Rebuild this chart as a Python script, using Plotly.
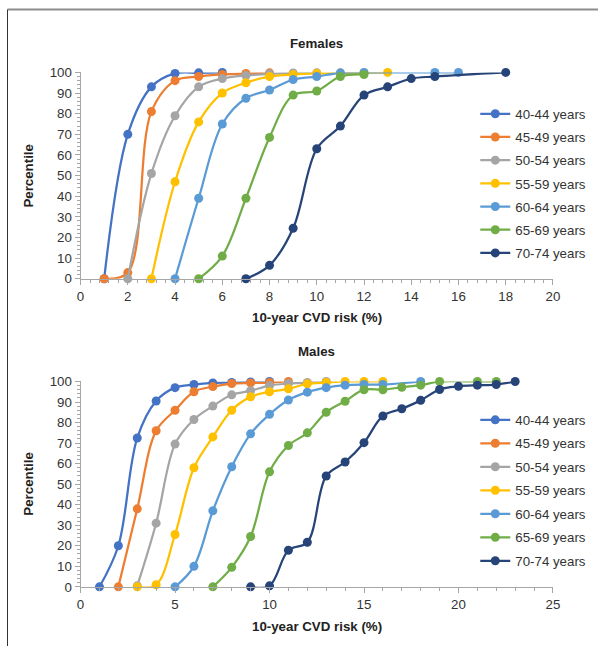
import plotly.graph_objects as go

age_groups = ["40-44 years", "45-49 years", "50-54 years", "55-59 years",
              "60-64 years", "65-69 years", "70-74 years"]
colors = ["#4472C4", "#ED7D31", "#A5A5A5", "#FFC000", "#5B9BD5", "#70AD47", "#264478"]

# Females: 10-year CVD risk (%) and percentile
f_x_40 = [1, 2, 3, 4, 5, 6]
f_y_40 = [0, 70, 93, 99.5, 99.8, 100]
f_x_45 = [1, 2, 3, 4, 5, 6, 7, 8]
f_y_45 = [0, 3, 81, 96, 98, 99, 99.5, 99.8]
f_x_50 = [2, 3, 4, 5, 6, 7, 8, 9, 10]
f_y_50 = [0, 51, 79, 93, 97, 98.5, 99.3, 99.7, 99.8]
f_x_55 = [3, 4, 5, 6, 7, 8, 9, 10, 11, 12, 13]
f_y_55 = [0, 47, 76, 90, 95, 98, 99, 99.5, 99.7, 99.8, 100]
f_x_60 = [4, 5, 6, 7, 8, 9, 10, 11, 12, 15, 16]
f_y_60 = [0, 39, 75, 87.5, 91.5, 96.5, 98, 99.8, 100, 100, 100]
f_x_65 = [5, 6, 7, 8, 9, 10, 11, 12]
f_y_65 = [0, 11, 39, 68.5, 89, 91, 98, 99]
f_x_70 = [7, 8, 9, 10, 11, 12, 13, 14, 15, 18]
f_y_70 = [0, 6.5, 24.5, 63, 74, 89, 93, 97, 98, 100]

# Males
m_x_40 = [1, 2, 3, 4, 5, 6, 7, 8, 9, 10]
m_y_40 = [0, 20, 72.5, 90.5, 97, 98.5, 99.3, 99.5, 99.8, 100]
m_x_45 = [2, 3, 4, 5, 6, 7, 8, 9, 10, 11]
m_y_45 = [0, 38, 76, 86, 95, 97.5, 99, 99.3, 99.5, 100]
m_x_50 = [3, 4, 5, 6, 7, 8, 9, 10, 11, 12, 13]
m_y_50 = [0.5, 31, 69.5, 81.5, 88, 93.5, 95.5, 98, 99, 99.5, 100]
m_x_55 = [3, 4, 5, 6, 7, 8, 9, 10, 11, 12, 13, 14, 15, 16]
m_y_55 = [0, 1, 25.5, 58, 73, 86, 92.5, 95, 96.4, 98.9, 99.5, 100, 100, 100]
m_x_60 = [5, 6, 7, 8, 9, 10, 11, 12, 13, 14, 15, 16, 18]
m_y_60 = [0, 10, 37, 58.5, 74.5, 84, 91, 94.8, 97, 98.2, 98.5, 98.5, 100]
m_x_65 = [7, 8, 9, 10, 11, 12, 13, 14, 15, 16, 17, 18, 19, 21, 22]
m_y_65 = [0, 9.5, 24.5, 56, 68.8, 75, 85, 90.4, 96, 96, 97.2, 98.2, 100, 100, 100]
m_x_70 = [9, 10, 11, 12, 13, 14, 15, 16, 17, 18, 19, 20, 21, 22, 23]
m_y_70 = [0, 0.5, 17.8, 21.7, 54, 60.8, 70.2, 83.2, 86.7, 90.8, 96.1, 97.7, 98.2, 98.5, 100]

females = [(f_x_40, f_y_40), (f_x_45, f_y_45), (f_x_50, f_y_50), (f_x_55, f_y_55),
           (f_x_60, f_y_60), (f_x_65, f_y_65), (f_x_70, f_y_70)]
males = [(m_x_40, m_y_40), (m_x_45, m_y_45), (m_x_50, m_y_50), (m_x_55, m_y_55),
         (m_x_60, m_y_60), (m_x_65, m_y_65), (m_x_70, m_y_70)]

W, H = 605, 654
# map target picture pixels to paper fractions (compensates the capture's slight scaling)
def px(x):
    return ((x - 3.5) / 0.981) / W
def py(y):
    return 1 - ((y - 6.4) / 0.98) / H

fig = go.Figure()
for i, (xs, ys) in enumerate(females):
    fig.add_trace(go.Scatter(
        x=xs, y=ys, name=age_groups[i], mode="lines+markers",
        line=dict(color=colors[i], width=2.25, shape="spline", smoothing=1),
        marker=dict(color=colors[i], size=9),
        xaxis="x", yaxis="y", legend="legend", legendgroup="f" + str(i),
        cliponaxis=False))
for i, (xs, ys) in enumerate(males):
    fig.add_trace(go.Scatter(
        x=xs, y=ys, name=age_groups[i], mode="lines+markers",
        line=dict(color=colors[i], width=2.25, shape="spline", smoothing=1),
        marker=dict(color=colors[i], size=9),
        xaxis="x2", yaxis="y2", legend="legend2", legendgroup="m" + str(i),
        cliponaxis=False))

tickfont = dict(family="Liberation Sans, Arial, sans-serif", size=13.3, color="#333333")
axis_common = dict(showgrid=False, zeroline=False, showline=True, linecolor="#A6A6A6",
                   linewidth=1, ticks="outside", ticklen=5, tickcolor="#A6A6A6",
                   tickfont=tickfont, fixedrange=True)

xdom = [px(80), px(552)]
legfont = dict(family="Liberation Sans, Arial, sans-serif", size=13.3, color="#333333")
fig.update_layout(
    width=W, height=H,
    margin=dict(l=0, r=0, t=0, b=0),
    paper_bgcolor="white", plot_bgcolor="white",
    xaxis=dict(domain=xdom, range=[0, 20], dtick=2, anchor="y",
               minor=dict(dtick=0.4, ticks="outside", ticklen=3, tickcolor="#A6A6A6"),
               **axis_common),
    yaxis=dict(domain=[py(279), py(72)], range=[0, 100], dtick=10, anchor="x",
               minor=dict(dtick=2, ticks="outside", ticklen=3, tickcolor="#A6A6A6"),
               **axis_common),
    xaxis2=dict(domain=xdom, range=[0, 25], dtick=5, anchor="y2",
                minor=dict(dtick=1, ticks="outside", ticklen=3, tickcolor="#A6A6A6"),
                **axis_common),
    yaxis2=dict(domain=[py(588), py(382)], range=[0, 100], dtick=10, anchor="x2",
                minor=dict(dtick=2, ticks="outside", ticklen=3, tickcolor="#A6A6A6"),
                **axis_common),
    legend=dict(x=480 / W, y=1 - 93.8 / H, xanchor="left", yanchor="top",
                bgcolor="rgba(0,0,0,0)", traceorder="grouped", tracegroupgap=2.9,
                font=legfont),
    legend2=dict(x=480 / W, y=1 - 407 / H, xanchor="left", yanchor="top",
                 bgcolor="rgba(0,0,0,0)", traceorder="grouped", tracegroupgap=3.2,
                 font=legfont),
    showlegend=True,
)

title_font = dict(family="Liberation Sans Narrow, Arial Narrow, Liberation Sans, sans-serif",
                  size=13.3, color="#222222")
annos = [
    dict(text="<b>Females</b>", x=px(316), y=py(43)),
    dict(text="<b>Males</b>", x=px(316), y=py(352)),
    dict(text="<b>10-year CVD risk (%)</b>", x=px(316), y=py(318)),
    dict(text="<b>10-year CVD risk (%)</b>", x=px(316), y=py(628)),
    dict(text="<b>Percentile</b>", x=px(28), y=py(176), textangle=-90),
    dict(text="<b>Percentile</b>", x=px(28), y=py(485), textangle=-90),
]
for a in annos:
    fig.add_annotation(xref="paper", yref="paper", showarrow=False,
                       xanchor="center", yanchor="middle", font=title_font, **a)

# Frame
fig.add_shape(type="line", xref="paper", yref="paper", x0=px(7), x1=1, y0=py(9), y1=py(9),
              line=dict(color="#8C8C8C", width=2))
fig.add_shape(type="line", xref="paper", yref="paper", x0=px(7), x1=px(7), y0=py(9), y1=0,
              line=dict(color="#333333", width=1))

post = ("document.documentElement.style.margin='0';document.documentElement.style.padding='0';"
        "document.documentElement.style.overflow='hidden';"
        "document.body.style.margin='0';document.body.style.padding='0';"
        "document.body.style.overflow='hidden';"
        "var gd=document.getElementById('{plot_id}');"
        "gd.style.position='fixed';gd.style.left='0px';gd.style.top='0px';")
fig.write_html("out.html", config={"displayModeBar": False}, post_script=post)
